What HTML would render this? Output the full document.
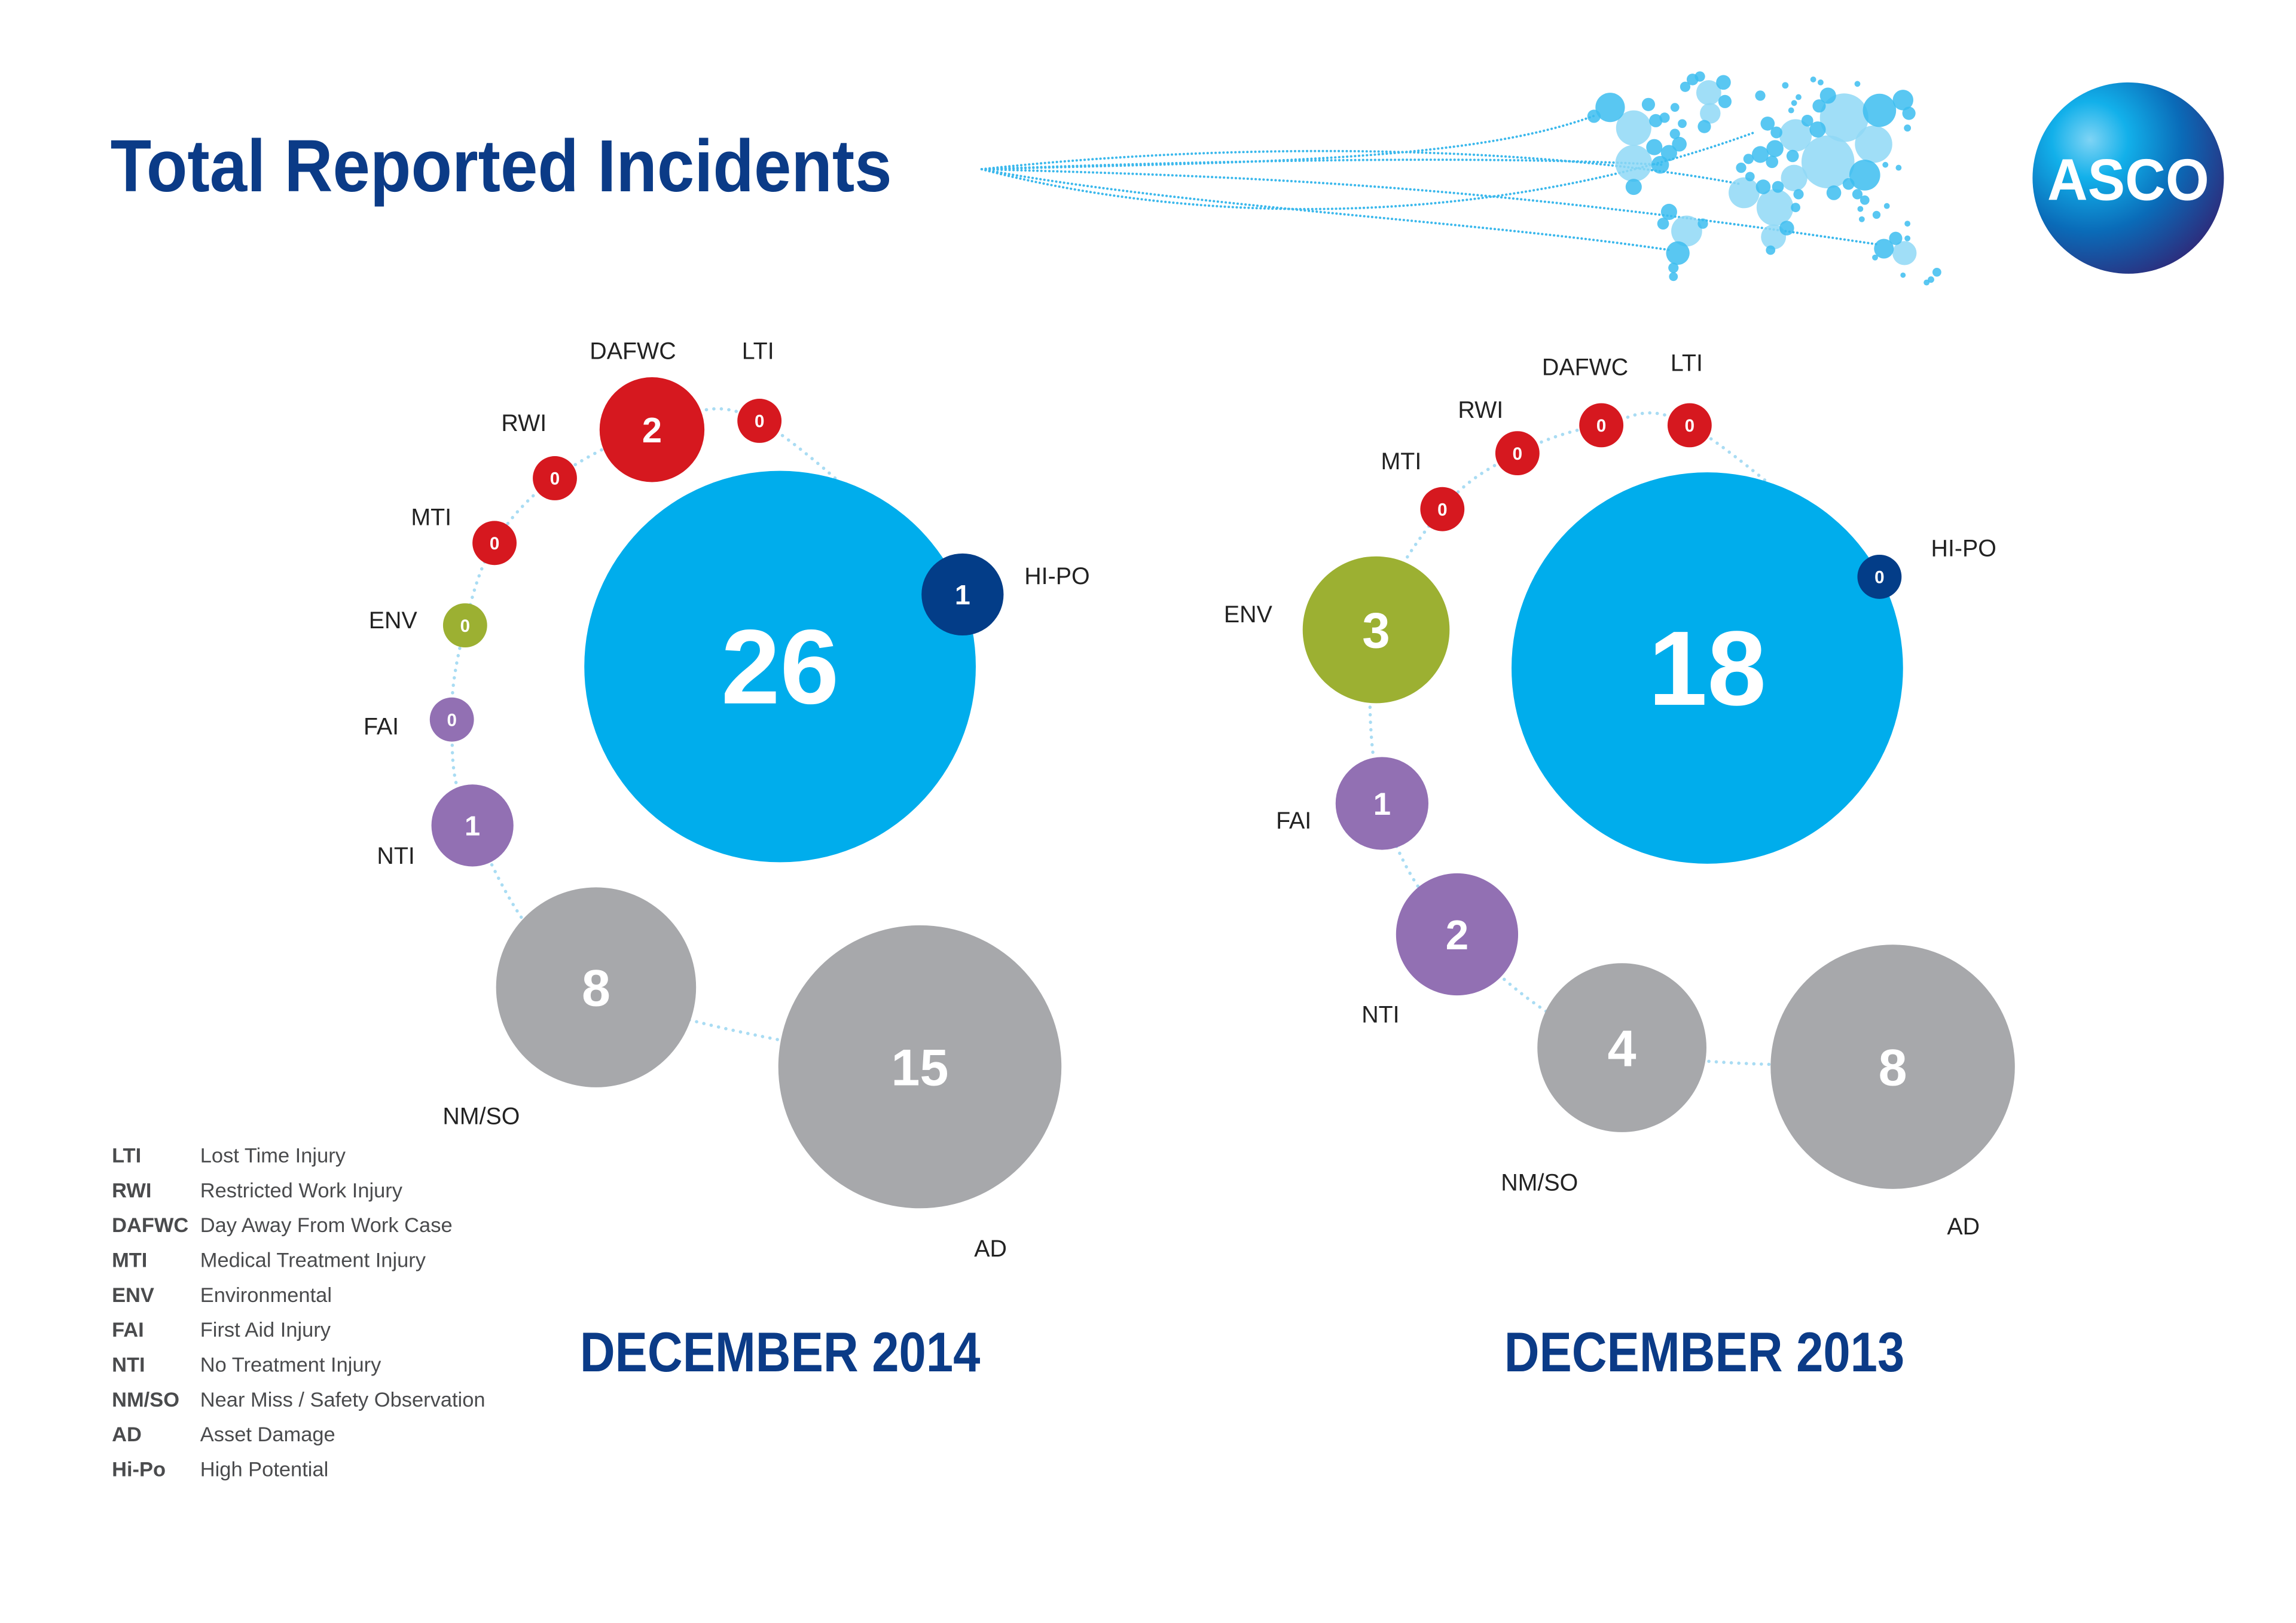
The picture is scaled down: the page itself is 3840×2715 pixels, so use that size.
<!DOCTYPE html>
<html><head><meta charset="utf-8">
<style>
html,body{margin:0;padding:0;background:#fff;}
svg{display:block;}
text{font-family:"Liberation Sans Narrow","Liberation Sans",sans-serif;}
</style></head>
<body>
<svg id="chart" width="3840" height="2715" viewBox="0 0 1560 1103" preserveAspectRatio="none" xmlns="http://www.w3.org/2000/svg">
<defs>
<radialGradient id="logoGrad" cx="0.3" cy="0.3" r="0.8">
<stop offset="0" stop-color="#7fd4f5"/>
<stop offset="0.25" stop-color="#12b0ea"/>
<stop offset="0.6" stop-color="#0a6bb8"/>
<stop offset="1" stop-color="#2e2a7a"/>
</radialGradient>
</defs>
<text x="75" y="130" font-size="50" font-weight="bold" fill="#0b3b87" textLength="531" lengthAdjust="spacingAndGlyphs">Total Reported Incidents</text>
<g id="map"></g>
<g>
<circle cx="1446" cy="121" r="65" fill="url(#logoGrad)"/>
<text x="1446" y="136" font-size="40" font-weight="bold" fill="#fff" text-anchor="middle" textLength="110" lengthAdjust="spacingAndGlyphs" font-family="Liberation Sans, sans-serif">ASCO</text>
</g>
<g id="left"></g>
<g id="right"></g>
<text x="530" y="932" font-size="38" font-weight="bold" fill="#0b3b87" text-anchor="middle" textLength="272" lengthAdjust="spacingAndGlyphs">DECEMBER 2014</text>
<text x="1158" y="932" font-size="38" font-weight="bold" fill="#0b3b87" text-anchor="middle" textLength="272" lengthAdjust="spacingAndGlyphs">DECEMBER 2013</text>
<g id="legend"></g>
</svg>
<script>
const NS = "http://www.w3.org/2000/svg";
// Data
const categories = ["HI-PO","LTI","DAFWC","RWI","MTI","ENV","FAI","NTI","NM/SO","AD"];
const values2014 = [1,0,2,0,0,0,0,1,8,15];
const values2013 = [0,0,0,0,0,3,1,2,4,8];
const total2014 = 26;
const total2013 = 18;
const legendAbbr = ["LTI","RWI","DAFWC","MTI","ENV","FAI","NTI","NM/SO","AD","Hi-Po"];
const legendDesc = ["Lost Time Injury","Restricted Work Injury","Day Away From Work Case","Medical Treatment Injury","Environmental","First Aid Injury","No Treatment Injury","Near Miss / Safety Observation","Asset Damage","High Potential"];

// Layout (not data)
const colors = {"HI-PO":"#033d88","LTI":"#d6181f","DAFWC":"#d6181f","RWI":"#d6181f","MTI":"#d6181f","ENV":"#9cb032","FAI":"#9270b3","NTI":"#9270b3","NM/SO":"#a7a8ab","AD":"#a7a8ab"};
const layoutL = {main:[530,453], pos:[[654,404],[516,286],[443,292],[377,325],[336,369],[316,425],[307,489],[321,561],[405,671],[625,725]],
  lab:[[696,397,"start"],[515,244,"middle"],[430,244,"middle"],[356,293,"middle"],[293,357,"middle"],[267,427,"middle"],[259,499,"middle"],[269,587,"middle"],[327,764,"middle"],[673,854,"middle"]]};
const layoutR = {main:[1160,454], pos:[[1277,392],[1148,289],[1088,289],[1031,308],[980,346],[935,428],[939,546],[990,635],[1102,712],[1286,725]],
  lab:[[1312,378,"start"],[1146,252,"middle"],[1077,255,"middle"],[1006,284,"middle"],[952,319,"middle"],[848,423,"middle"],[879,563,"middle"],[938,695,"middle"],[1046,809,"middle"],[1334,839,"middle"]]};

function rScale(v, max){ return 15 + 118*Math.pow(v/max, 0.68); }
function mk(tag, attrs, parent){ const e=document.createElementNS(NS,tag); for(const k in attrs) e.setAttribute(k,attrs[k]); parent.appendChild(e); return e; }

function catmull(pts){
  let d="M"+pts[0][0]+","+pts[0][1];
  for(let i=0;i<pts.length-1;i++){
    const p0=pts[Math.max(0,i-1)],p1=pts[i],p2=pts[i+1],p3=pts[Math.min(pts.length-1,i+2)];
    const c1=[p1[0]+(p2[0]-p0[0])/6,p1[1]+(p2[1]-p0[1])/6];
    const c2=[p2[0]-(p3[0]-p1[0])/6,p2[1]-(p3[1]-p1[1])/6];
    d+=" C"+c1[0]+","+c1[1]+" "+c2[0]+","+c2[1]+" "+p2[0]+","+p2[1];
  }
  return d;
}

function drawChart(g, values, total, layout, key){
  const max = total;
  const path = mk("path",{d:catmull(layout.pos),fill:"none",stroke:"#a9dcf3","stroke-width":2.2,"stroke-dasharray":"0.1 5","stroke-linecap":"round"},g);
  
  
  const mr = rScale(total,max);
  const main = mk("circle",{cx:layout.main[0],cy:layout.main[1],r:mr,fill:"#00adec"},g);
  
  
  const mt = mk("text",{x:layout.main[0],y:layout.main[1]+25,"font-size":72,"font-weight":"bold",fill:"#fff","text-anchor":"middle"},g);
  mt.textContent = total;
  
  
  categories.forEach((c,i)=>{
    const v = values[i], p = layout.pos[i], r = rScale(v,max);
    const circ = mk("circle",{cx:p[0],cy:p[1],r:r,fill:colors[c]},g);
    
    
    const fs = Math.max(12, Math.min(35, r*0.68));
    const t = mk("text",{x:p[0],y:p[1]+fs*0.36,"font-size":fs,"font-weight":"bold",fill:"#fff","text-anchor":"middle"},g);
    t.textContent = v;
    
    
    const l = layout.lab[i];
    const lt = mk("text",{x:l[0],y:l[1],"font-size":16,fill:"#222","text-anchor":l[2]},g);
    lt.textContent = c;
    
    
  });
}
drawChart(document.getElementById("left"), values2014, total2014, layoutL, "dec2014");
drawChart(document.getElementById("right"), values2013, total2013, layoutR, "dec2013");

const lg = document.getElementById("legend");
legendAbbr.forEach((a,i)=>{
  const y = 790 + i*23.7;
  const ta = mk("text",{x:76,y:y,"font-size":14,"font-weight":"bold",fill:"#4a4b4d"},lg);
  ta.textContent = a;
  
  
  const td = mk("text",{x:136,y:y,"font-size":14,fill:"#4a4b4d"},lg);
  td.textContent = legendDesc[i];
  
  
});

// decorative map
const mg = document.getElementById("map");
const curves = [
 "M667,115 C850,110 1000,110 1085,78",
 "M667,115 C850,95 1050,100 1182,125",
 "M667,115 C800,150 1000,160 1192,90",
 "M667,115 C850,120 1000,125 1275,166",
 "M667,115 C800,140 1000,150 1135,170",
 "M667,115 C800,110 1000,105 1130,112"
];
curves.forEach(d=>{ mk("path",{d:d,fill:"none",stroke:"#3bb8ec","stroke-width":1.6,"stroke-dasharray":"0.1 2.6","stroke-linecap":"round"},mg); });
const dots = [
 [1110,87,12,0],[1110,111,12.5,0],[1161,63,8.5,0],[1162,77,7,0],[1146,157,10.5,0],[1185,131,10.5,0],[1206,141,12.5,0],[1205,161,8.5,0],[1220,92,11,0],[1253,80,16.5,0],[1242,110,18,0],[1273,98,12.7,0],[1294,172,8.2,0],[1219,121,9,0],
 [1094,73,10,1],[1124,100,5.5,1],[1128,112,6,1],[1134,104,5.5,1],[1141,98,5,1],[1083,79,4.5,1],[1120,71,4.5,1],[1125,82,4.5,1],[1131,80,3.5,1],[1110,127,5.5,1],[1171,56,5,1],[1172,69,4.5,1],[1150,54,4,1],[1155,52,3.5,1],[1145,59,3.5,1],[1158,86,4.5,1],[1138,73,3,1],[1143,84,3,1],[1138,91,3.5,1],
 [1134,144,5.5,1],[1140,172,8,1],[1137,182,3.5,1],[1137,188,3,1],[1130,152,4,1],[1157,152,3.5,1],
 [1206,101,5.8,1],[1196,105,5.7,1],[1201,84,4.8,1],[1204,110,4.2,1],[1188,108,3.5,1],[1183,114,3.5,1],[1198,127,5,1],[1208,127,4,1],[1214,155,5,1],[1218,106,4.2,1],[1222,132,3.5,1],[1220,141,3.2,1],[1196,65,3.5,1],[1189,120,3.2,1],[1203,170,3.2,1],[1207,90,4,1],
 [1277,75,11.3,1],[1267,119,10.5,1],[1293,68,7,1],[1297,77,4.5,1],[1242,65,5.5,1],[1236,72,4.5,1],[1235,88,5.5,1],[1228,82,4,1],[1246,131,5,1],[1256,125,4,1],[1262,132,3.5,1],[1267,136,3.2,1],[1275,146,2.7,1],[1296,87,2.4,1],[1262,57,2,1],[1232,54,2,1],[1237,56,2,1],[1213,58,2.2,1],[1222,66,2,1],[1219,70,2,1],[1217,75,2,1],
 [1280,169,6.7,1],[1288,162,4.5,1],[1296,162,2,1],[1274,175,2,1],[1316,185,3,1],[1312,190,2.2,1],[1309,192,2,1],[1293,187,1.8,1],[1296,152,2,1],[1281,112,2,1],[1290,114,2,1],[1264,142,2,1],[1265,149,2,1],[1282,140,2,1]
];
dots.forEach(d=>{
  const c = mk("circle",{cx:d[0],cy:d[1],r:d[2],fill:d[3]?"#3cbdf0":"#8fd8f6","fill-opacity":0.85},mg);
});
</script>
</body></html>
